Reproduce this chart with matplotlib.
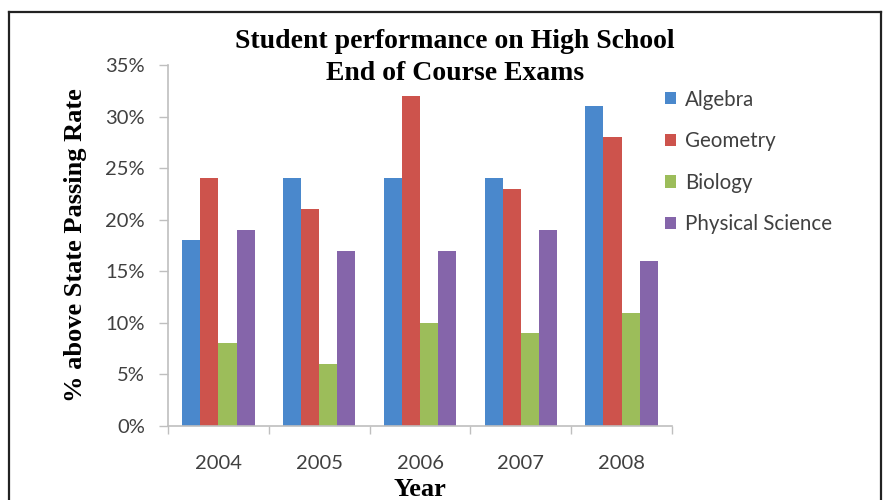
import matplotlib
matplotlib.use("Agg")
import matplotlib.pyplot as plt
import numpy as np
from matplotlib.patches import Patch
from matplotlib.lines import Line2D
from matplotlib.ticker import FixedLocator, FuncFormatter

years = ["2004", "2005", "2006", "2007", "2008"]
subjects = ["Algebra", "Geometry", "Biology", "Physical Science"]
algebra = [18, 24, 24, 24, 31]
geometry = [24, 21, 32, 23, 28]
biology = [8, 6, 10, 9, 11]
physical_science = [19, 17, 17, 19, 16]
y_ticks = [0, 5, 10, 15, 20, 25, 30, 35]

series = [algebra, geometry, biology, physical_science]
colors = ["#4A88CC", "#CD534C", "#9CBD5A", "#8565AA"]

tick_font = "Lato"
serif_font = "Liberation Serif"
text_gray = "#404040"
axis_gray = "#BFBFBF"

fig = plt.figure(figsize=(8.84, 5.0), dpi=100)
ax = fig.add_axes([168 / 884, 74 / 500, 504 / 884, 361 / 500])

x = np.arange(len(years))
width = 0.18
for i, (vals, col) in enumerate(zip(series, colors)):
    ax.bar(x + (i - 1.5) * width, vals, width, color=col, edgecolor="none", zorder=2)

ax.set_xlim(-0.5, len(years) - 0.5)
ax.set_ylim(0, 35)
ax.yaxis.set_major_locator(FixedLocator(y_ticks))
ax.yaxis.set_major_formatter(FuncFormatter(lambda v, p: f"{int(v)}%"))

# category dividers as major ticks, year labels on minor ticks
ax.xaxis.set_major_locator(FixedLocator(np.arange(-0.5, len(years), 1.0)))
ax.xaxis.set_major_formatter(FuncFormatter(lambda v, p: ""))
ax.xaxis.set_minor_locator(FixedLocator(x))
ax.set_xticklabels(years, minor=True)
ax.tick_params(axis="x", which="major", length=6, width=1, color=axis_gray, direction="out")
ax.tick_params(axis="x", which="minor", length=0, pad=21, labelsize=14.5, labelcolor=text_gray)
ax.tick_params(axis="y", length=6.5, width=1, color=axis_gray, direction="out", pad=10,
               labelsize=14.5, labelcolor=text_gray)
for lab in ax.get_xticklabels(minor=True) + ax.get_yticklabels():
    lab.set_fontfamily(tick_font)

for side in ("top", "right"):
    ax.spines[side].set_visible(False)
for side in ("left", "bottom"):
    ax.spines[side].set_color(axis_gray)
    ax.spines[side].set_linewidth(1.2)

ax.set_ylabel("% above State Passing Rate", fontfamily=serif_font, fontweight="bold",
              fontsize=19, color="black", labelpad=13)
ax.set_xlabel("Year", fontfamily=serif_font, fontweight="bold", fontsize=19,
              color="black", labelpad=4)

fig.text(455 / 884, 1 - 42 / 500, "Student performance on High School",
         ha="center", va="center", fontfamily=serif_font, fontweight="bold", fontsize=20)
fig.text(455 / 884, 1 - 73 / 500, "End of Course Exams",
         ha="center", va="center", fontfamily=serif_font, fontweight="bold", fontsize=20)

handles = [Patch(facecolor=c, edgecolor="none") for c in colors]
leg = fig.legend(handles, subjects, loc="upper left", bbox_to_anchor=(646 / 884, 1 - 71 / 500),
                 frameon=False, handlelength=0.55, handleheight=0.55, handletextpad=0.45,
                 labelspacing=1.05, prop={"family": tick_font, "size": 14.8})
for t in leg.get_texts():
    t.set_color(text_gray)

# outer frame
frame_kw = dict(color="#222222", linewidth=1.6, transform=fig.transFigure)
fig.add_artist(Line2D([9 / 884, 9 / 884], [-0.01, 1 - 12 / 500], **frame_kw))
fig.add_artist(Line2D([9 / 884, 881 / 884], [1 - 12 / 500, 1 - 12 / 500], **frame_kw))
fig.add_artist(Line2D([881 / 884, 881 / 884], [-0.01, 1 - 12 / 500], **frame_kw))

fig.savefig("out.png", dpi=100)
